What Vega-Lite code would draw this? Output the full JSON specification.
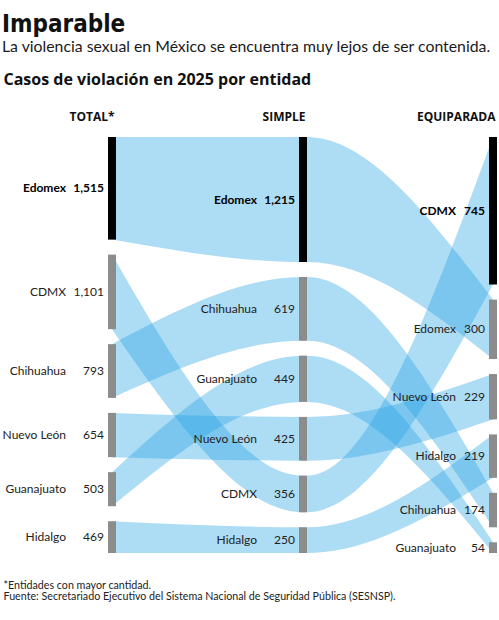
{
  "$schema": "https://vega.github.io/schema/vega-lite/v6.json",
  "width": 499,
  "height": 416,
  "autosize": "none",
  "padding": {"top": 137, "left": 0, "right": 0, "bottom": 67},
  "background": "white",
  "config": {"view": {"stroke": null}},
  "title": {
    "text": "Imparable",
    "subtitle": "La violencia sexual en México se encuentra muy lejos de  ser contenida.",
    "anchor": "start",
    "frame": "group",
    "dx": 2,
    "offset": 16,
    "font": "'DejaVu Sans Condensed', 'Liberation Sans Narrow', 'Roboto Condensed', Roboto",
    "fontSize": 24,
    "fontWeight": "bold",
    "color": "#111111",
    "subtitleFont": "Lato",
    "subtitleFontSize": 15.8,
    "subtitleColor": "#1a1a1a",
    "subtitlePadding": 3
  },
  "data": {
    "values": [
      {"entidad": "Edomex", "etapa": "TOTAL", "borde": 1, "casos": 1515},
      {"entidad": "CDMX", "etapa": "TOTAL", "borde": 1, "casos": 1101},
      {"entidad": "Chihuahua", "etapa": "TOTAL", "borde": 1, "casos": 793},
      {"entidad": "Nuevo León", "etapa": "TOTAL", "borde": 1, "casos": 654},
      {"entidad": "Guanajuato", "etapa": "TOTAL", "borde": 1, "casos": 503},
      {"entidad": "Hidalgo", "etapa": "TOTAL", "borde": 1, "casos": 469},
      {"entidad": "Edomex", "etapa": "SIMPLE", "borde": 2, "casos": 1215},
      {"entidad": "Chihuahua", "etapa": "SIMPLE", "borde": 2, "casos": 619},
      {"entidad": "Guanajuato", "etapa": "SIMPLE", "borde": 2, "casos": 449},
      {"entidad": "Nuevo León", "etapa": "SIMPLE", "borde": 2, "casos": 425},
      {"entidad": "CDMX", "etapa": "SIMPLE", "borde": 2, "casos": 356},
      {"entidad": "Hidalgo", "etapa": "SIMPLE", "borde": 2, "casos": 250},
      {"entidad": "Edomex", "etapa": "SIMPLE", "borde": 3, "casos": 1215},
      {"entidad": "Chihuahua", "etapa": "SIMPLE", "borde": 3, "casos": 619},
      {"entidad": "Guanajuato", "etapa": "SIMPLE", "borde": 3, "casos": 449},
      {"entidad": "Nuevo León", "etapa": "SIMPLE", "borde": 3, "casos": 425},
      {"entidad": "CDMX", "etapa": "SIMPLE", "borde": 3, "casos": 356},
      {"entidad": "Hidalgo", "etapa": "SIMPLE", "borde": 3, "casos": 250},
      {"entidad": "CDMX", "etapa": "EQUIPARADA", "borde": 4, "casos": 745},
      {"entidad": "Edomex", "etapa": "EQUIPARADA", "borde": 4, "casos": 300},
      {"entidad": "Nuevo León", "etapa": "EQUIPARADA", "borde": 4, "casos": 229},
      {"entidad": "Hidalgo", "etapa": "EQUIPARADA", "borde": 4, "casos": 219},
      {"entidad": "Chihuahua", "etapa": "EQUIPARADA", "borde": 4, "casos": 174},
      {"entidad": "Guanajuato", "etapa": "EQUIPARADA", "borde": 4, "casos": 54}
    ]
  },
  "transform": [
    {"window": [{"op": "rank", "as": "rango"}], "groupby": ["borde"], "sort": [{"field": "casos", "order": "descending"}]},
    {"stack": "casos", "groupby": ["borde"], "sort": [{"field": "casos", "order": "descending"}], "offset": "normalize", "as": ["y0", "y1"]}
  ],
  "layer": [
    {
      "mark": {
        "type": "area",
        "interpolate": "monotone",
        "color": "#27a4e6",
        "fillOpacity": 0.38,
        "yOffset": {"expr": "(datum.rango - 1) * 15"},
        "y2Offset": {"expr": "(datum.rango - 1) * 15"}
      },
      "encoding": {
        "x": {
          "field": "borde", "type": "quantitative",
          "scale": {"domain": [1, 2, 3, 4], "range": [112, 303, 307, 493], "zero": false, "nice": false},
          "axis": {
            "orient": "top", "values": [1, 2, 4],
            "labelExpr": "datum.value == 1 ? 'TOTAL*' : datum.value == 2 ? 'SIMPLE' : 'EQUIPARADA'",
            "domain": false, "ticks": false, "tickSize": 0, "grid": false,
            "labelAlign": "right", "labelOffset": 2, "labelPadding": 14, "labelFlush": false, "labelOverlap": false, "labelBound": false,
            "labelFont": "Open Sans", "labelFontWeight": "bold", "labelFontSize": 12, "labelColor": "#111111",
            "title": "Casos de violación en 2025 por entidad",
            "titleFont": "Open Sans", "titleFontSize": 16, "titleFontWeight": "bold", "titleColor": "#111111",
            "titleX": 3, "titleY": -53, "titleAlign": "left", "titleAnchor": "start", "titleBaseline": "alphabetic"
          }
        },
        "y": {
          "field": "y0", "type": "quantitative", "stack": null,
          "scale": {"domain": [0, 1], "range": [0, 341], "zero": false, "nice": false},
          "axis": {
            "orient": "left", "labels": false, "ticks": false, "domain": false, "grid": false,
            "title": ["*Entidades con mayor cantidad.", "Fuente: Secretariado Ejecutivo del Sistema Nacional de Seguridad Pública (SESNSP)."],
            "titleAngle": 0, "titleX": 3, "titleY": 451, "titleAlign": "left", "titleBaseline": "alphabetic",
            "titleFont": "Lato", "titleFontSize": 10.7, "titleFontWeight": "normal", "titleColor": "#222222", "titleLineHeight": 11.5
          }
        },
        "y2": {"field": "y1"},
        "detail": {"field": "entidad"}
      }
    },
    {
      "transform": [{"filter": "datum.borde != 3"}],
      "mark": {
        "type": "rule",
        "strokeWidth": 8,
        "strokeCap": "butt",
        "yOffset": {"expr": "(datum.rango - 1) * 15"},
        "y2Offset": {"expr": "(datum.rango - 1) * 15"}
      },
      "encoding": {
        "x": {"field": "borde", "type": "quantitative"},
        "y": {"field": "y0", "type": "quantitative", "stack": null},
        "y2": {"field": "y1"},
        "color": {"condition": {"test": "datum.rango == 1", "value": "#000000"}, "value": "#8c8c8c"}
      }
    },
    {
      "transform": [{"filter": "datum.borde != 3"}],
      "mark": {
        "type": "text",
        "align": "right",
        "baseline": "middle",
        "dx": -8,
        "font": "Lato",
        "fontSize": 12,
        "fontWeight": {"expr": "datum.rango == 1 ? 'bold' : 'normal'"},
        "yOffset": {"expr": "(datum.rango - 1) * 15 + (datum.y1 - datum.y0) * 170.5"}
      },
      "encoding": {
        "x": {"field": "borde", "type": "quantitative"},
        "y": {"field": "y0", "type": "quantitative", "stack": null},
        "text": {"field": "casos", "type": "quantitative", "format": ",d"},
        "color": {"condition": {"test": "datum.rango == 1", "value": "#000000"}, "value": "#222222"}
      }
    },
    {
      "transform": [{"filter": "datum.borde != 3"}],
      "mark": {
        "type": "text",
        "align": "right",
        "baseline": "middle",
        "dx": {"expr": "datum.borde == 4 ? -37 : -46"},
        "font": "Lato",
        "fontSize": 12,
        "fontWeight": {"expr": "datum.rango == 1 ? 'bold' : 'normal'"},
        "yOffset": {"expr": "(datum.rango - 1) * 15 + (datum.y1 - datum.y0) * 170.5"}
      },
      "encoding": {
        "x": {"field": "borde", "type": "quantitative"},
        "y": {"field": "y0", "type": "quantitative", "stack": null},
        "text": {"field": "entidad", "type": "nominal"},
        "color": {"condition": {"test": "datum.rango == 1", "value": "#000000"}, "value": "#222222"}
      }
    }
  ]
}
